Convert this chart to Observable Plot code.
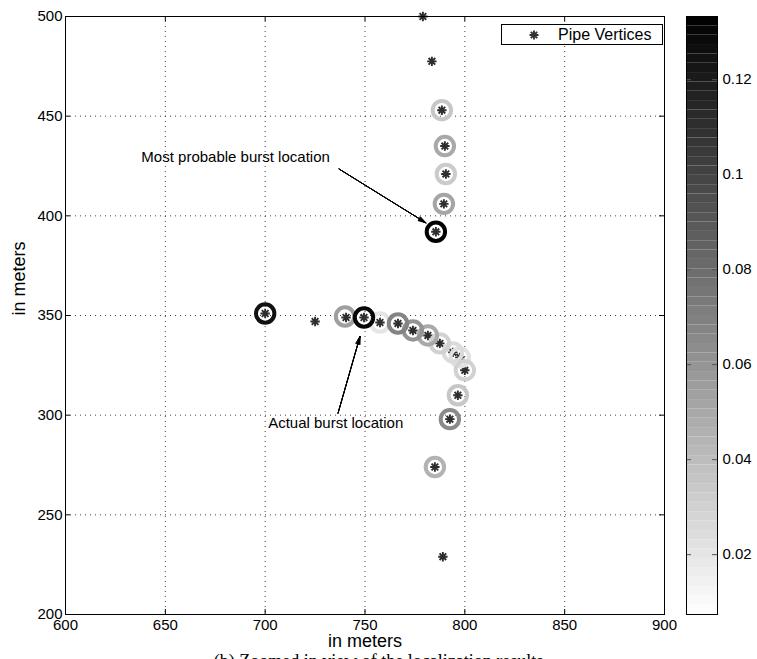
<!DOCTYPE html>
<html>
<head>
<meta charset="utf-8">
<script src="https://cdn.jsdelivr.net/npm/d3@7"></script>
<script src="https://cdn.jsdelivr.net/npm/@observablehq/plot@0.6"></script>
<style>
  html, body { margin: 0; padding: 0; background: #fff; }
  #wrap { position: relative; width: 757px; height: 659px; overflow: hidden; background: #fff;
          font-family: "Liberation Sans", Arial, sans-serif; }
  #main { position: absolute; left: 0; top: 0; }
  #cbar { position: absolute; left: 686px; top: 0; }
  #legend { position: absolute; left: 501px; top: 24px; width: 160px; height: 19px;
            border: 1px solid #000; background: #fff; font-size: 16px; line-height: 19px; }
  #legend svg { position: absolute; left: 26px; top: 4px; }
  #legend span { position: absolute; left: 56px; top: 0; }
  #caption { position: absolute; left: 0; top: 652px; width: 757px; text-align: center;
             font-family: "Liberation Serif", "Times New Roman", serif; font-size: 18px; line-height: 18px; white-space: nowrap; }
</style>
</head>
<body>
<div id="wrap">
  <div id="main"></div>
  <div id="cbar"></div>
  <div id="legend"><svg width="12" height="12" viewBox="-6 -6 12 12"><path d="M-4.5,0L4.5,0M0,-4.5L0,4.5M-3.2,-3.2L3.2,3.2M-3.2,3.2L3.2,-3.2" stroke="#333" stroke-width="1.9" fill="none"/></svg><span>Pipe Vertices</span></div>
  <div id="caption">(b) Zoomed in view of the localization results</div>
</div>
<script>
// ---- axes ----
const xDomain = [600, 900];
const yDomain = [200, 500];
const xTicks = [600, 650, 700, 750, 800, 850, 900];
const yTicks = [200, 250, 300, 350, 400, 450, 500];
const xGrid = [650, 700, 750, 800, 850];
const yGrid = [250, 300, 350, 400, 450];
const xLabel = "in meters";
const yLabel = "in meters";

// ---- colour bar ----
const cMin = 0.0074, cMax = 0.1333;
const cTicks = [0.02, 0.04, 0.06, 0.08, 0.1, 0.12];
const cLevels = 64;

// ---- pipe vertices (asterisks) ----
const vertexX = [779, 783.5, 788.5, 790, 790.5, 789.5, 785.5, 700, 725, 740.5, 749.5, 757.5, 766.5, 774, 781.5, 787.5, 794, 797.5, 800, 796.5, 792.5, 785, 789];
const vertexY = [500, 477.5, 453, 435, 421, 406, 392, 351, 347, 349, 349, 346.5, 346, 342.5, 340, 336, 331.5, 329, 322.5, 310, 298, 274, 229];

// ---- burst probability circles ----
const circleX = [788.5, 790, 790.5, 789.5, 785.5, 700, 740, 749.5, 757.5, 766.5, 774, 781.5, 787.5, 794, 797.5, 800, 796.5, 792.5, 785];
const circleY = [453, 435, 421, 406, 392, 351, 349.5, 349, 346.5, 346, 342.5, 340, 336, 331.5, 329, 322.5, 310, 298, 274];
const circleP = [0.035, 0.05, 0.033, 0.052, 0.133, 0.125, 0.055, 0.13, 0.02, 0.068, 0.06, 0.05, 0.03, 0.025, 0.022, 0.03, 0.035, 0.065, 0.045];

// ---- annotations ----
const annoText = ["Most probable burst location", "Actual burst location"];
const annoX = [638, 701.5];
const annoY = [429.5, 296];
const arrowX1 = [737, 736.5];
const arrowY1 = [423.5, 301];
const arrowX2 = [780.5, 747.5];
const arrowY2 = [396.5, 339.5];

const vertices = vertexX.map((x, i) => ({x, y: vertexY[i]}));
const circles = circleX.map((x, i) => ({x, y: circleY[i], p: circleP[i]})).sort((a, b) => a.p - b.p);
const annos = annoText.map((t, i) => ({t, x: annoX[i], y: annoY[i]}));
const arrows = arrowX1.map((x1, i) => ({x1, y1: arrowY1[i], x2: arrowX2[i], y2: arrowY2[i]}));

const asterisk = {
  draw(ctx, size) {
    const r = Math.sqrt(size / Math.PI), d = r * Math.SQRT1_2;
    ctx.moveTo(-r, 0); ctx.lineTo(r, 0);
    ctx.moveTo(0, -r); ctx.lineTo(0, r);
    ctx.moveTo(-d, -d); ctx.lineTo(d, d);
    ctx.moveTo(-d, d); ctx.lineTo(d, -d);
  }
};

const colorScale = {type: "linear", domain: [cMin, cMax], range: ["#ffffff", "#000000"]};
const font = {fontFamily: "Liberation Sans, Arial, sans-serif", fontSize: "15px", color: "#000", background: "transparent", overflow: "visible"};

const H = 659, mT = 16, mB = 45;
const plotH = H - mT - mB;
const mainW = 686, mL = 65, mR = 22;
const plotW = mainW - mL - mR;
const tickLen = 5;

const headAngles = [8, 16, 24, 32];

const main = Plot.plot({
  width: mainW, height: H,
  marginLeft: mL, marginRight: mR, marginTop: mT, marginBottom: mB,
  style: font,
  x: {domain: xDomain, axis: null},
  y: {domain: yDomain, axis: null},
  color: colorScale,
  marks: [
    Plot.gridX(xGrid, {stroke: "#000", strokeOpacity: 0.75, strokeDasharray: "1,4"}),
    Plot.gridY(yGrid, {stroke: "#000", strokeOpacity: 0.75, strokeDasharray: "1,4"}),
    Plot.tickX(xTicks, {insetTop: plotH - tickLen, stroke: "#000"}),
    Plot.tickX(xTicks, {insetBottom: plotH - tickLen, stroke: "#000"}),
    Plot.tickY(yTicks, {insetRight: plotW - tickLen, stroke: "#000"}),
    Plot.tickY(yTicks, {insetLeft: plotW - tickLen, stroke: "#000"}),
    Plot.axisX(xTicks, {tickSize: 0, tickPadding: 5, label: null, fontSize: 15}),
    Plot.axisY(yTicks, {tickSize: 0, tickPadding: 3, label: null, fontSize: 15}),
    Plot.text([xLabel], {frameAnchor: "bottom", dy: 32, text: d => d, fontSize: 18}),
    Plot.text([yLabel], {frameAnchor: "left", dx: -46, rotate: -90, text: d => d, fontSize: 18}),
    Plot.dot(vertices, {x: "x", y: "y", symbol: asterisk, r: 4.7, stroke: "#2e2e2e", strokeWidth: 1.9, fill: "none"}),
    Plot.dot(circles, {x: "x", y: "y", r: 9.2, stroke: "p", strokeWidth: 4, fill: "none"}),
    ...headAngles.map(a => Plot.arrow(arrows, {x1: "x1", y1: "y1", x2: "x2", y2: "y2", stroke: "#000", strokeWidth: 1, headLength: 12, headAngle: a})),
    Plot.text(annos, {x: "x", y: "y", text: "t", textAnchor: "start", fontSize: 15, fill: "#000"}),
    Plot.frame({stroke: "#000"})
  ]
});
document.getElementById("main").appendChild(main);

// colour bar
const levels = d3.range(cLevels).map(i => ({
  y1: cMin + (cMax - cMin) * i / cLevels,
  y2: cMin + (cMax - cMin) * (i + 1) / cLevels
}));
const cbW = 71, cbMR = 40;
const cbPlotW = cbW - cbMR;
const cbar = Plot.plot({
  width: cbW, height: H,
  marginLeft: 0, marginRight: cbMR, marginTop: mT, marginBottom: mB,
  style: font,
  x: {domain: [0, 1], axis: null},
  y: {domain: [cMin, cMax], axis: null},
  color: colorScale,
  marks: [
    Plot.rect(levels, {x1: 0, x2: 1, y1: "y1", y2: "y2", fill: d => (d.y1 + d.y2) / 2}),
    Plot.tickY(cTicks, {insetRight: cbPlotW - tickLen, stroke: "#555"}),
    Plot.tickY(cTicks, {insetLeft: cbPlotW - tickLen, stroke: "#555"}),
    Plot.axisY(cTicks, {anchor: "right", tickSize: 0, tickPadding: 5, label: null, fontSize: 15, tickFormat: d => String(d)}),
    Plot.frame({stroke: "#000"})
  ]
});
document.getElementById("cbar").appendChild(cbar);
</script>
</body>
</html>
